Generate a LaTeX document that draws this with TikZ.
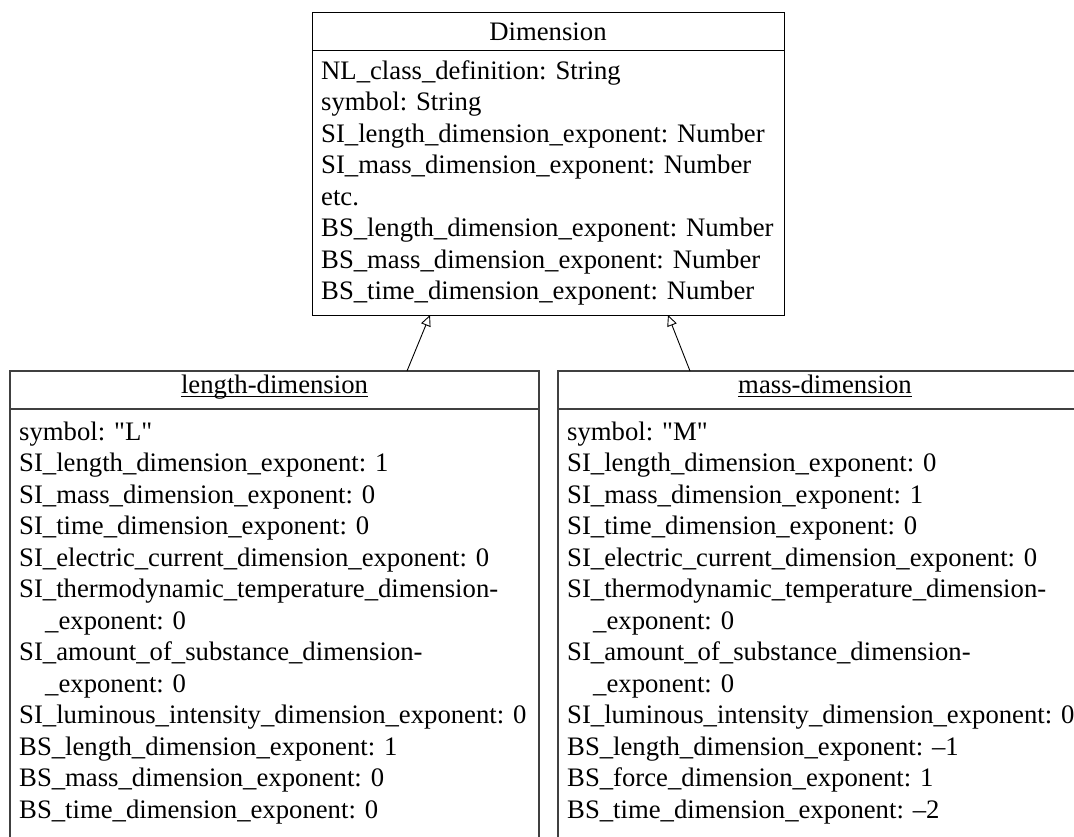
\documentclass[tikz,border=0pt]{standalone}
\usepackage{fontspec}
\setmainfont{Liberation Serif}
\usetikzlibrary{arrows.meta}
\begin{document}
\begin{tikzpicture}[x=1pt,y=-1pt,
  classbox/.style={draw=black, line width=1pt, anchor=north west, inner sep=0pt, outer sep=0pt},
  lowerbox/.style={classbox, draw=black!75, line width=1.3pt},
  attr/.style={anchor=base west, inner sep=0pt, font=\fontsize{26.7}{31.5}\selectfont},
  classtitle/.style={anchor=base, inner sep=0pt, font=\fontsize{26.7}{31.5}\selectfont},
  inherits/.style={draw=black, line width=0.9pt,
    -{Triangle[open, length=11pt, width=10pt, line width=0.9pt]}},
]
\useasboundingbox (0,0) rectangle (1074,836);
\clip (0,0) rectangle (1074,836);

% superclass
\node[classbox, minimum width=472pt, minimum height=303pt] (dim) at (312,12) {};
\draw[line width=1pt] ([yshift=-38pt]dim.north west) -- ([yshift=-38pt]dim.north east);
\node[classtitle] (dimT) at (548,40) {Dimension};
\foreach \t [count=\i from 0] in {
  NL\_class\_definition: String,
  symbol: String,
  SI\_length\_dimension\_exponent: Number,
  SI\_mass\_dimension\_exponent: Number,
  etc.,
  BS\_length\_dimension\_exponent: Number,
  BS\_mass\_dimension\_exponent: Number,
  BS\_time\_dimension\_exponent: Number}
  \node[attr] (dimA\i) at (321, 79+31.5*\i) {\t};

% length instance
\node[lowerbox, minimum width=529pt, minimum height=480pt] (len) at (10,371) {};
\draw[draw=black!75, line width=1.3pt] ([yshift=-38pt]len.north west) -- ([yshift=-38pt]len.north east);
\node[classtitle] (lenT) at (274.5,393) {length-dimension};
\draw[line width=0.9pt] ([yshift=-3pt]lenT.base west) -- ([yshift=-3pt]lenT.base east);
\foreach \t [count=\i from 0] in {
  symbol: \textquotedbl L\textquotedbl,
  SI\_length\_dimension\_exponent: 1,
  SI\_mass\_dimension\_exponent: 0,
  SI\_time\_dimension\_exponent: 0,
  SI\_electric\_current\_dimension\_exponent: 0,
  SI\_thermodynamic\_temperature\_dimension-,
  \hspace*{26pt}\_exponent: 0,
  SI\_amount\_of\_substance\_dimension-,
  \hspace*{26pt}\_exponent: 0,
  SI\_luminous\_intensity\_dimension\_exponent: 0,
  BS\_length\_dimension\_exponent: 1,
  BS\_mass\_dimension\_exponent: 0,
  BS\_time\_dimension\_exponent: 0}
  \node[attr] (lenA\i) at (19, 440+31.5*\i) {\t};

% mass instance
\node[lowerbox, minimum width=534pt, minimum height=480pt] (mass) at (558,371) {};
\draw[draw=black!75, line width=1.3pt] ([yshift=-38pt]mass.north west) -- ([yshift=-38pt]mass.north east);
\node[classtitle] (massT) at (825,393) {mass-dimension};
\draw[line width=0.9pt] ([yshift=-3pt]massT.base west) -- ([yshift=-3pt]massT.base east);
\foreach \t [count=\i from 0] in {
  symbol: \textquotedbl M\textquotedbl,
  SI\_length\_dimension\_exponent: 0,
  SI\_mass\_dimension\_exponent: 1,
  SI\_time\_dimension\_exponent: 0,
  SI\_electric\_current\_dimension\_exponent: 0,
  SI\_thermodynamic\_temperature\_dimension-,
  \hspace*{26pt}\_exponent: 0,
  SI\_amount\_of\_substance\_dimension-,
  \hspace*{26pt}\_exponent: 0,
  SI\_luminous\_intensity\_dimension\_exponent: 0,
  BS\_length\_dimension\_exponent: \textendash1,
  BS\_force\_dimension\_exponent: 1,
  BS\_time\_dimension\_exponent: \textendash2}
  \node[attr] (massA\i) at (567, 440+31.5*\i) {\t};

% generalisation arrows
\coordinate (lenUp) at (407,371);
\coordinate (dimL) at (430,315);
\coordinate (massUp) at (690,371);
\coordinate (dimR) at (668,315);
\draw[inherits] (lenUp) -- (dimL);
\draw[inherits] (massUp) -- (dimR);
\end{tikzpicture}
\end{document}
